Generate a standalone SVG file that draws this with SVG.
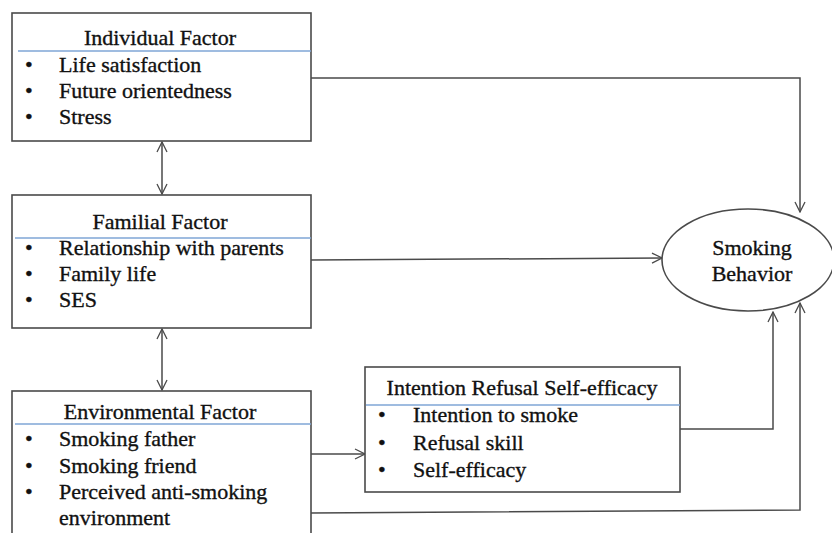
<svg xmlns="http://www.w3.org/2000/svg" width="832" height="533" viewBox="0 0 832 533">
<style>
.box{fill:#fff;stroke:#4a4a4a;stroke-width:1.6}
.sep{stroke:#7fa6d6;stroke-width:1.5}
.t{font-family:"Liberation Serif","Times New Roman",serif;font-size:22px;fill:#111;stroke:#111;stroke-width:0.35}
.c{text-anchor:middle}
.ln{fill:none;stroke:#4a4a4a;stroke-width:1.5}
</style>
<defs>
<marker id="ah" viewBox="0 0 12 12" refX="11" refY="6" markerWidth="12" markerHeight="12" markerUnits="userSpaceOnUse" orient="auto-start-reverse">
<path d="M1,1 L11,6 L1,11" fill="none" stroke="#4a4a4a" stroke-width="1.3"/>
</marker>
</defs>
<g id="connectors">
<line class="ln" x1="162" y1="142" x2="162" y2="194" marker-start="url(#ah)" marker-end="url(#ah)"/>
<line class="ln" x1="162" y1="329" x2="162" y2="390" marker-start="url(#ah)" marker-end="url(#ah)"/>
<polyline class="ln" points="311,78 800,78 800,212" marker-end="url(#ah)"/>
<polyline class="ln" points="311,260 662,258" marker-end="url(#ah)"/>
<polyline class="ln" points="311,454 365,454" marker-end="url(#ah)"/>
<polyline class="ln" points="680,429 773,429 773,312" marker-end="url(#ah)"/>
<polyline class="ln" points="311,513 800,510 800,303" marker-end="url(#ah)"/>
</g>
<g id="individual">
<rect class="box" x="12" y="13" width="299" height="128"/>
<line class="sep" x1="18" y1="51" x2="311" y2="51"/>
<text class="t c" x="160" y="45">Individual Factor</text>
<text class="t" x="25" y="72">•</text><text class="t" x="59" y="72">Life satisfaction</text>
<text class="t" x="25" y="98">•</text><text class="t" x="59" y="98">Future orientedness</text>
<text class="t" x="25" y="124">•</text><text class="t" x="59" y="124">Stress</text>
</g>
<g id="familial">
<rect class="box" x="12" y="195" width="299" height="133"/>
<line class="sep" x1="15" y1="238" x2="311" y2="238"/>
<text class="t c" x="160" y="229">Familial Factor</text>
<text class="t" x="25" y="255">•</text><text class="t" x="59" y="255">Relationship with parents</text>
<text class="t" x="25" y="281">•</text><text class="t" x="59" y="281">Family life</text>
<text class="t" x="25" y="307">•</text><text class="t" x="59" y="307">SES</text>
</g>
<g id="environmental">
<rect class="box" x="12" y="391" width="299" height="160"/>
<line class="sep" x1="15" y1="424" x2="311" y2="424"/>
<text class="t c" x="160" y="419">Environmental Factor</text>
<text class="t" x="25" y="446">•</text><text class="t" x="59" y="446">Smoking father</text>
<text class="t" x="25" y="473">•</text><text class="t" x="59" y="473">Smoking friend</text>
<text class="t" x="25" y="499">•</text><text class="t" x="59" y="499">Perceived anti-smoking</text>
<text class="t" x="59" y="525">environment</text>
</g>
<g id="intention">
<rect class="box" x="365" y="367" width="315" height="125"/>
<line class="sep" x1="366" y1="405" x2="680" y2="405"/>
<text class="t c" x="522" y="395">Intention Refusal Self-efficacy</text>
<text class="t" x="378" y="422">•</text><text class="t" x="413" y="422">Intention to smoke</text>
<text class="t" x="378" y="450">•</text><text class="t" x="413" y="450">Refusal skill</text>
<text class="t" x="378" y="477">•</text><text class="t" x="413" y="477">Self-efficacy</text>
</g>
<g id="smoking">
<ellipse class="box" cx="748" cy="260" rx="86" ry="51"/>
<text class="t c" x="752" y="255">Smoking</text>
<text class="t c" x="752" y="281">Behavior</text>
</g>
</svg>
